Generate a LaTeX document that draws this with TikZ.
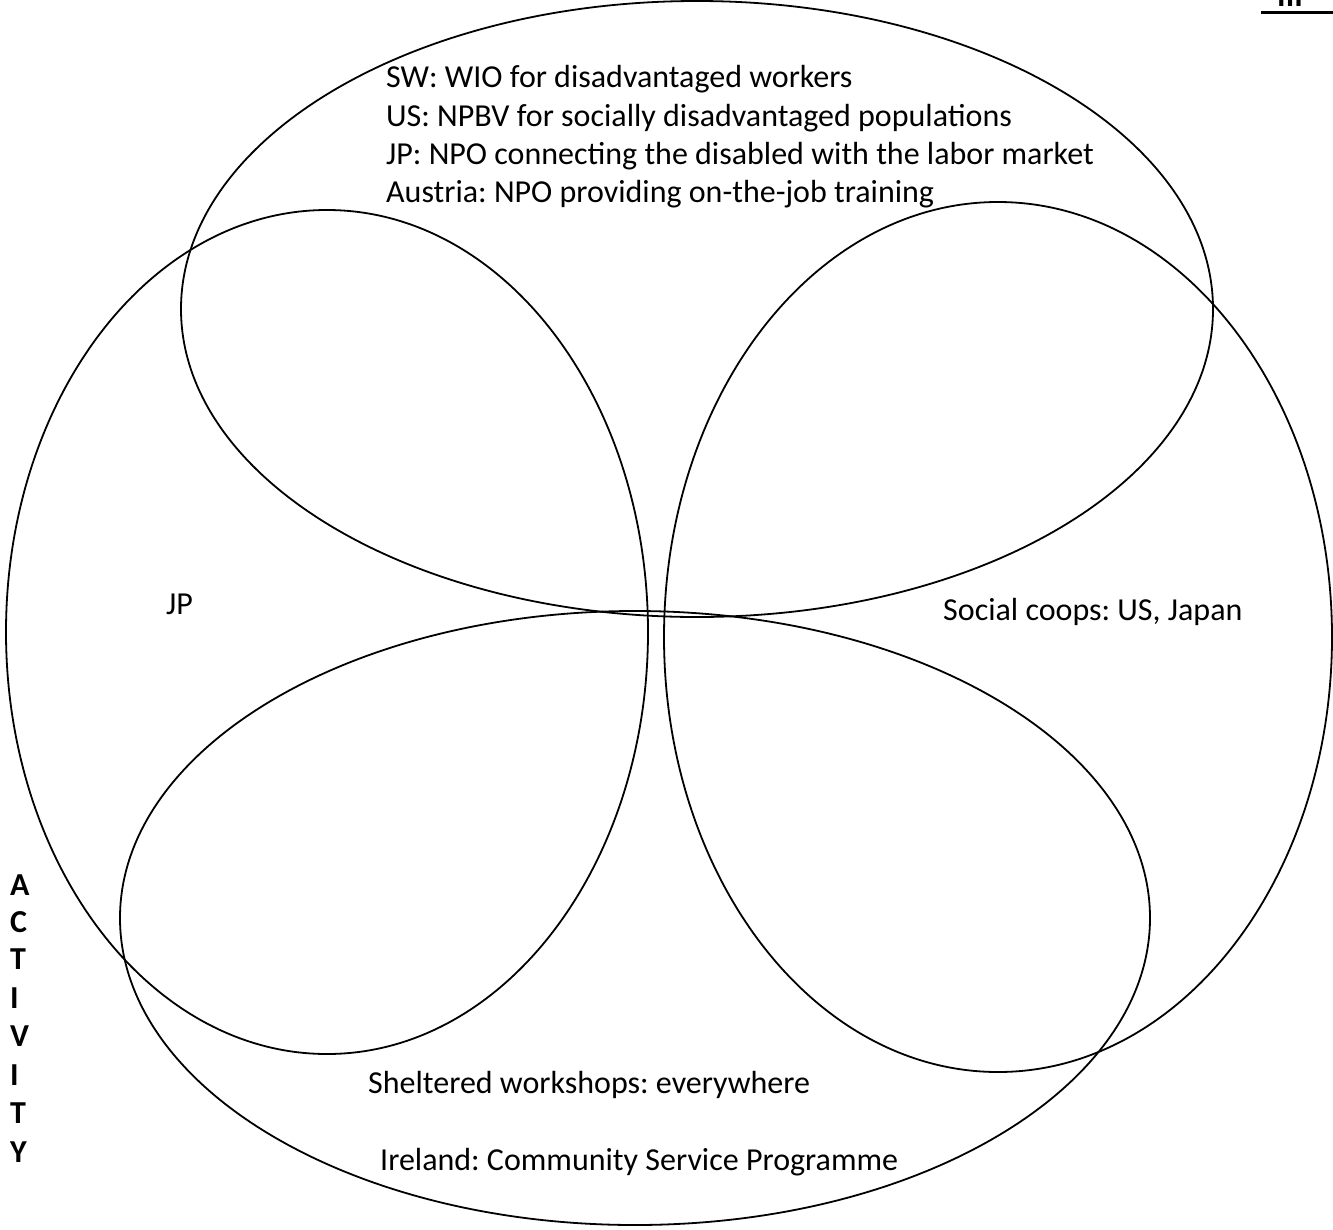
\documentclass[tikz,border=0pt]{standalone}
\usepackage{fontspec}
\setmainfont{Carlito}
\frenchspacing
\begin{document}
\begin{tikzpicture}[x=1pt,y=-1pt,
  venn/.style={draw=black,line width=1.8pt},
  lbl/.style={anchor=base west,inner sep=0pt,font=\fontsize{32}{38}\selectfont},
  vlbl/.style={anchor=base west,inner sep=0pt,font=\fontsize{32}{38}\selectfont\bfseries}]
\useasboundingbox (0,0) rectangle (1333,1229);
% ellipses
\draw[venn] (697,309) ellipse [x radius=516pt, y radius=308pt];
\draw[venn] (327,632) ellipse [x radius=321pt, y radius=422pt];
\draw[venn] (998,637) ellipse [x radius=334pt, y radius=435pt];
\draw[venn] (635,918) ellipse [x radius=515pt, y radius=307pt];
% top set text
\node[lbl] (t1) at (386,87) {SW: WIO for disadvantaged workers};
\node[lbl] (t2) at (386,126) {US: NPBV for socially disadvantaged populations};
\node[lbl] (t3) at (386,164) {JP: NPO connecting the disabled with the labor market};
\node[lbl] (t4) at (386,202) {Austria: NPO providing on-the-job training};
% others
\node[lbl] (jp) at (166,614) {JP};
\node[lbl] (coop) at (943,620) {Social coops: US, Japan};
\node[lbl] (shel) at (368,1093) {Sheltered workshops: everywhere};
\node[lbl] (irl) at (380,1170) {Ireland: Community Service Programme};
% vertical ACTIVITY
\node[vlbl] (a1) at (10,895) {A};
\node[vlbl] (a2) at (10,932) {C};
\node[vlbl] (a3) at (10,969) {T};
\node[vlbl] (a4) at (10,1008) {I};
\node[vlbl] (a5) at (10,1046) {V};
\node[vlbl] (a6) at (10,1085) {I};
\node[vlbl] (a7) at (10,1123) {T};
\node[vlbl] (a8) at (10,1162) {Y};
% heading cut off at the top right, as in the reference
\begin{scope}
\clip (0,0) rectangle (1333,1229);
\node[vlbl] (hd) at (1277,6) {III};
\draw[line width=3pt] (1261,12.5) -- (1333,12.5);
\end{scope}
\end{tikzpicture}
\end{document}
